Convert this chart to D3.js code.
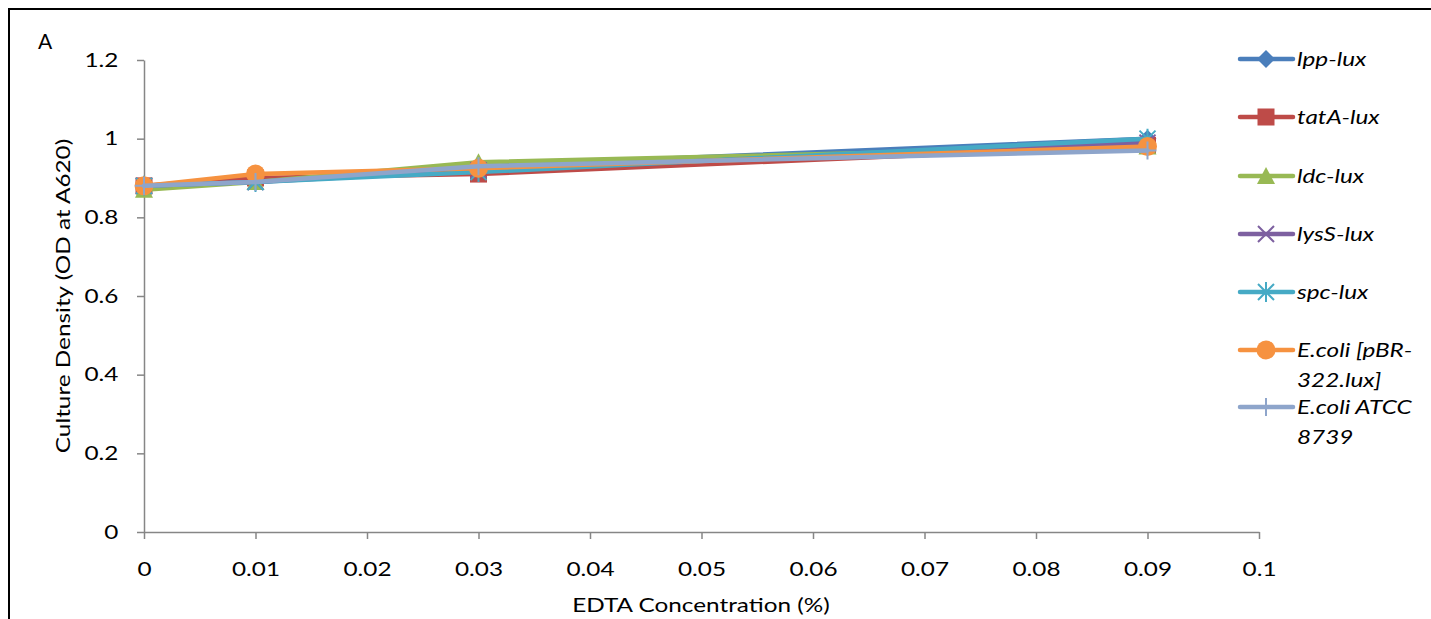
<!DOCTYPE html>
<html><head><meta charset="utf-8">
<script src="https://cdn.jsdelivr.net/npm/d3@7"></script>
<style>
html,body{margin:0;padding:0;background:#fff;}
svg{display:block;font-family:Lato,"Open Sans",sans-serif;}
</style></head>
<body>
<svg id="chart" width="1431" height="619"></svg>
<script>
const xValues = [0, 0.01, 0.03, 0.09];
const seriesNames = ["lpp-lux", "tatA-lux", "ldc-lux", "lysS-lux", "spc-lux", "E.coli [pBR-322.lux]", "E.coli ATCC 8739"];
const lppLux   = [0.88, 0.89, 0.93, 1.00];
const tatALux  = [0.88, 0.90, 0.91, 0.983];
const ldcLux   = [0.87, 0.89, 0.94, 0.98];
const lysSLux  = [0.88, 0.89, 0.92, 0.99];
const spcLux   = [0.88, 0.89, 0.915, 1.00];
const ecoliPBR = [0.88, 0.91, 0.925, 0.98];
const ecoliATCC= [0.88, 0.89, 0.93, 0.97];
const xTicks = [0,0.01,0.02,0.03,0.04,0.05,0.06,0.07,0.08,0.09,0.1];
const yTicks = [0,0.2,0.4,0.6,0.8,1,1.2];
const legendLines = [["lpp-lux"],["tatA-lux"],["ldc-lux"],["lysS-lux"],["spc-lux"],["E.coli [pBR-","322.lux]"],["E.coli ATCC","8739"]];

const seriesData = [lppLux, tatALux, ldcLux, lysSLux, spcLux, ecoliPBR, ecoliATCC];
const colors = ["#4A7EBB","#BE4B48","#98B954","#7D60A0","#46AAC5","#F69240","#8EA5CB"];
const markers = ["diamond","square","triangle","x","star","circle","plus"];
const SX = 1.28;

const svg = d3.select("#chart");
svg.append("path").attr("d","M9,619 V9 H1431").attr("fill","none").attr("stroke","#000").attr("stroke-width",2);

const x = d3.scaleLinear().domain([0,0.1]).range([144,1259]);
const y = d3.scaleLinear().domain([0,1.2]).range([532,60]);

const xAxis = svg.append("g").attr("transform","translate(0,532)")
  .call(d3.axisBottom(x).tickValues(xTicks).tickFormat(d=>String(+d.toFixed(2))).tickSizeInner(7).tickSizeOuter(0).tickPadding(24));
const yAxis = svg.append("g").attr("transform","translate(144,0)")
  .call(d3.axisLeft(y).tickValues(yTicks).tickFormat(d=>String(+d.toFixed(1))).tickSizeInner(7).tickSizeOuter(0).tickPadding(13));
[xAxis,yAxis].forEach(g=>{
  g.selectAll("path,line").attr("stroke","#868686").attr("stroke-width",1.5);
  g.selectAll("text").attr("font-size",19).attr("fill","#000").attr("font-family","Lato,'Open Sans',sans-serif")
    .attr("transform",`scale(${SX},1)`);
});

svg.append("text").attr("transform",`translate(701,612) scale(${SX},1)`).attr("text-anchor","middle").attr("font-size",19).text("EDTA Concentration (%)");
svg.append("text").attr("transform",`translate(70,296) rotate(-90) scale(${SX},1)`).attr("text-anchor","middle").attr("font-size",19).text("Culture Density  (OD at A620)");
svg.append("text").attr("x",38).attr("y",49).attr("font-size",21).text("A");

function markerPath(type, g, cx, cy, color){
  const s = g.append("g").attr("transform",`translate(${cx},${cy})`);
  if(type==="diamond") s.append("path").attr("d","M0,-9 L9,0 L0,9 L-9,0Z").attr("fill",color);
  else if(type==="square") s.append("rect").attr("x",-8.5).attr("y",-8.5).attr("width",17).attr("height",17).attr("fill",color);
  else if(type==="triangle") s.append("path").attr("d","M0,-9 L9,8 L-9,8Z").attr("fill",color);
  else if(type==="circle") s.append("circle").attr("r",9.5).attr("fill",color);
  else if(type==="x") s.append("path").attr("d","M-8,-8 L8,8 M-8,8 L8,-8").attr("stroke",color).attr("stroke-width",2);
  else if(type==="star") s.append("path").attr("d","M-8,-8 L8,8 M-8,8 L8,-8 M0,-10 V10").attr("stroke",color).attr("stroke-width",2);
  else if(type==="plus") s.append("path").attr("d","M-9,0 H9 M0,-9 V9").attr("stroke",color).attr("stroke-width",2);
}

const line = d3.line().x((d,i)=>x(xValues[i])).y(d=>y(d));
seriesData.forEach((vals,si)=>{
  const g = svg.append("g");
  g.append("path").datum(vals).attr("d",line).attr("fill","none").attr("stroke",colors[si]).attr("stroke-width",4.5).attr("stroke-linejoin","round").attr("stroke-linecap","round");
  vals.forEach((v,i)=>markerPath(markers[si], g, x(xValues[i]), y(v), colors[si]));
});

const legendY = [59,117,176,234,292,350,407];
seriesNames.forEach((name,si)=>{
  const g = svg.append("g");
  const ly = legendY[si];
  g.append("line").attr("x1",1240).attr("x2",1293).attr("y1",ly).attr("y2",ly).attr("stroke",colors[si]).attr("stroke-width",4.5).attr("stroke-linecap","round");
  markerPath(markers[si], g, 1266, ly, colors[si]);
  legendLines[si].forEach((ln,k)=>{
    g.append("text").attr("transform",`translate(1297,${ly+7+k*30}) scale(${SX},1)`)
      .attr("font-size",19).attr("font-style","italic").text(ln);
  });
});
</script>
</body></html>
